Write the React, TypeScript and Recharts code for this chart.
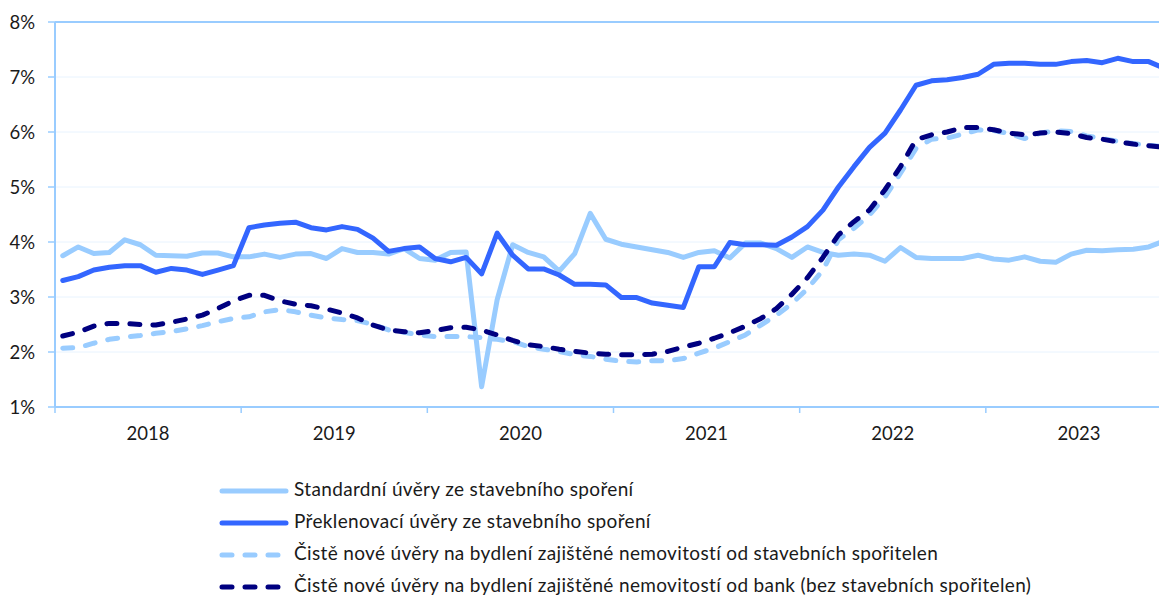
import { LineChart, Line, XAxis, YAxis, CartesianGrid, ReferenceLine } from "recharts";

const YEARS = ["2018", "2019", "2020", "2021", "2022", "2023"];
const MONTHS = ["01", "02", "03", "04", "05", "06", "07", "08", "09", "10", "11", "12"];

// Standardní úvěry ze stavebního spoření
const STANDARD = [
  3.75, 3.91, 3.79, 3.81, 4.04, 3.95, 3.76, 3.75, 3.74, 3.8, 3.8, 3.73,
  3.73, 3.78, 3.72, 3.78, 3.79, 3.7, 3.88, 3.81, 3.81, 3.78, 3.88, 3.7,
  3.67, 3.81, 3.82, 1.37, 2.95, 3.95, 3.81, 3.73, 3.47, 3.79, 4.52, 4.05,
  3.96, 3.91, 3.86, 3.81, 3.72, 3.81, 3.84, 3.71, 3.98, 3.98, 3.88, 3.72,
  3.91, 3.81, 3.76, 3.78, 3.76, 3.65, 3.9, 3.72, 3.7, 3.7, 3.7, 3.76,
  3.69, 3.67, 3.73, 3.65, 3.63, 3.78, 3.85, 3.84, 3.86, 3.87, 3.91, 4.02,
];

// Překlenovací úvěry ze stavebního spoření
const BRIDGING = [
  3.3, 3.37, 3.49, 3.54, 3.57, 3.57, 3.45, 3.52, 3.49, 3.41, 3.49, 3.57,
  4.26, 4.31, 4.34, 4.36, 4.26, 4.22, 4.28, 4.23, 4.07, 3.83, 3.88, 3.91,
  3.7, 3.64, 3.72, 3.42, 4.16, 3.76, 3.51, 3.51, 3.4, 3.23, 3.23, 3.22,
  2.99, 2.99, 2.89, 2.85, 2.81, 3.55, 3.55, 3.99, 3.95, 3.95, 3.94, 4.09,
  4.28, 4.58, 5.0, 5.37, 5.72, 5.98, 6.4, 6.85, 6.93, 6.95, 6.99, 7.05,
  7.23, 7.25, 7.25, 7.23, 7.23, 7.28, 7.3, 7.26, 7.34, 7.28, 7.28, 7.16,
];

// Čistě nové úvěry na bydlení zajištěné nemovitostí od stavebních spořitelen
const SAVINGS_NEW = [
  2.07, 2.08, 2.16, 2.23, 2.27, 2.3, 2.34, 2.37, 2.42, 2.48, 2.55, 2.61,
  2.64, 2.73, 2.77, 2.73, 2.67, 2.62, 2.59, 2.57, 2.5, 2.4, 2.36, 2.31,
  2.28, 2.28, 2.28, 2.26, 2.23, 2.19, 2.1, 2.05, 2.01, 1.95, 1.92, 1.87,
  1.83, 1.82, 1.84, 1.84, 1.88, 1.98, 2.07, 2.19, 2.31, 2.49, 2.67, 2.88,
  3.15, 3.49, 4.04, 4.25, 4.49, 4.82, 5.25, 5.7, 5.87, 5.89, 5.96, 6.04,
  6.03, 5.97, 5.88, 5.98, 6.02, 6.01, 5.93, 5.88, 5.83, 5.79, 5.76, 5.73,
];

// Čistě nové úvěry na bydlení zajištěné nemovitostí od bank
const BANKS_NEW = [
  2.29, 2.36, 2.47, 2.52, 2.52, 2.5, 2.49, 2.54, 2.6, 2.67, 2.79, 2.93,
  3.03, 3.03, 2.93, 2.87, 2.84, 2.78, 2.71, 2.62, 2.49, 2.4, 2.37, 2.35,
  2.39, 2.44, 2.45, 2.4, 2.31, 2.21, 2.13, 2.1, 2.05, 2.01, 1.98, 1.96,
  1.95, 1.95, 1.96, 2.01, 2.09, 2.16, 2.25, 2.35, 2.47, 2.61, 2.79, 3.05,
  3.35, 3.72, 4.13, 4.37, 4.58, 4.95, 5.37, 5.86, 5.95, 6.0, 6.08, 6.08,
  6.04, 5.98, 5.95, 5.98, 6.0, 5.97, 5.9, 5.87, 5.82, 5.78, 5.75, 5.72,
];

const Y_TICKS = [1, 2, 3, 4, 5, 6, 7, 8];

const LIGHT = "#99CCFF";
const BLUE = "#3366FF";
const NAVY = "#000080";
const AXIS = "#99CCFF";
const GRID = "#E8F3FE";
const FONT = "Lato, 'Open Sans', sans-serif";
const DASH = "10 13";

const SERIES = [
  { key: "standard", name: "Standardní úvěry ze stavebního spoření", color: LIGHT, dash: undefined },
  { key: "bridging", name: "Překlenovací úvěry ze stavebního spoření", color: BLUE, dash: undefined },
  { key: "savings", name: "Čistě nové úvěry na bydlení zajištěné nemovitostí od stavebních spořitelen", color: LIGHT, dash: DASH },
  { key: "banks", name: "Čistě nové úvěry na bydlení zajištěné nemovitostí od bank (bez stavebních spořitelen)", color: NAVY, dash: DASH },
];

const data = STANDARD.map((v, i) => ({
  t: i + 0.5,
  month: `${MONTHS[i % 12]}/${YEARS[Math.floor(i / 12)]}`,
  standard: v,
  bridging: BRIDGING[i],
  savings: SAVINGS_NEW[i],
  banks: BANKS_NEW[i],
}));

// year boundaries get a tick mark, year middles get the label
const X_TICKS = YEARS.flatMap((_, k) => [k * 12, k * 12 + 6]).concat(YEARS.length * 12);

function YearTick(props: any) {
  const { x, y, payload } = props;
  const v = payload.value as number;
  if (v % 12 === 0) {
    return <line x1={x} x2={x} y1={y} y2={y + 6} stroke={AXIS} strokeWidth={1.5} />;
  }
  return (
    <text x={x} y={y + 28} textAnchor="middle" dominantBaseline="middle" fill="#1a1a1a" fontSize={18.5} fontFamily={FONT}>
      {YEARS[(v - 6) / 12]}
    </text>
  );
}

function LegendBox() {
  return (
    <svg width={1159} height={127} style={{ position: "absolute", left: 0, top: 470 }}>
      {SERIES.map((s, i) => {
        const cy = 21 + i * 32;
        return (
          <g key={s.key}>
            <line
              x1={222}
              x2={286}
              y1={cy}
              y2={cy}
              stroke={s.color}
              strokeWidth={5}
              strokeLinecap="round"
              strokeDasharray={s.dash}
            />
            <text
              x={294}
              y={cy}
              dominantBaseline="middle"
              fontSize={19}
              letterSpacing={0.35}
              fontFamily={FONT}
              fill="#1a1a1a"
            >
              {s.name}
            </text>
          </g>
        );
      })}
    </svg>
  );
}

export default function App() {
  return (
    <div style={{ position: "absolute", left: 0, top: 0, width: 1159, height: 597, overflow: "hidden", background: "#fff" }}>
      <LineChart width={1180} height={597} data={data} margin={{ top: 22, right: 8, left: 0, bottom: 150 }}>
        <CartesianGrid vertical={false} stroke={GRID} strokeWidth={1} />
        <XAxis
          dataKey="t"
          type="number"
          domain={[0, 72]}
          ticks={X_TICKS}
          interval={0}
          tick={<YearTick />}
          tickLine={false}
          tickSize={0}
          tickMargin={0}
          axisLine={{ stroke: AXIS, strokeWidth: 2 }}
          height={40}
        />
        <YAxis
          type="number"
          domain={[1, 8]}
          ticks={Y_TICKS}
          interval={0}
          tickFormatter={(v: number) => `${v}%`}
          tick={{ fill: "#1a1a1a", fontSize: 18.5, fontFamily: FONT }}
          tickSize={7}
          tickMargin={13}
          tickLine={{ stroke: AXIS, strokeWidth: 1.5 }}
          axisLine={{ stroke: AXIS, strokeWidth: 2 }}
          width={55}
        />
        <ReferenceLine y={8} stroke={AXIS} strokeWidth={2} />
        {SERIES.map((s) => (
          <Line
            key={s.key}
            type="linear"
            dataKey={s.key}
            name={s.name}
            stroke={s.color}
            strokeWidth={5}
            strokeDasharray={s.dash}
            strokeLinecap="round"
            strokeLinejoin="round"
            dot={false}
            activeDot={false}
            isAnimationActive={false}
          />
        ))}
      </LineChart>
      <LegendBox />
    </div>
  );
}
